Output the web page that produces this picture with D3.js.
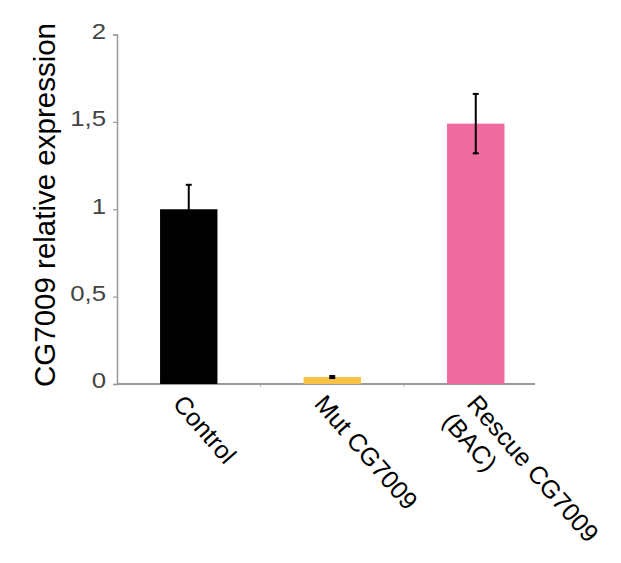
<!DOCTYPE html>
<html>
<head>
<meta charset="utf-8">
<script src="https://cdn.jsdelivr.net/npm/d3@7"></script>
<style>
  body { margin: 0; background: #fff; }
  text { font-family: "Liberation Sans", Arial, sans-serif; }
</style>
</head>
<body>
<svg id="chart" width="621" height="563"></svg>
<script>
// chart values
const categories = ["Control", "Mut CG7009", "Rescue CG7009\n(BAC)"];
const means = [1.0, 0.04, 1.49];
const errors = [0.14, 0.006, 0.17];
const barColors = ["#000000", "#f8c246", "#ee6c9d"];
const yTicks = [0, 0.5, 1, 1.5, 2];

const svg = d3.select("#chart");

const x = d3.scaleBand().domain(categories).range([117, 547.5]).paddingInner(0.6).paddingOuter(0.3);
const y = d3.scaleLinear().domain([0, 2]).range([384, 34.5]);

const fmt = d => String(d).replace(".", ",");

//------------------------------axes------------------------------
const gy = svg.append("g").attr("transform", "translate(117,0)")
  .call(d3.axisLeft(y).tickValues(yTicks).tickFormat(fmt).tickSize(4).tickSizeOuter(4).tickPadding(7));
gy.select(".domain").attr("stroke", "#999").attr("stroke-width", 1.5);
gy.selectAll(".tick line").attr("stroke", "#999").attr("stroke-width", 1.2);
// the figure's numerals are a bit wider than plain Arial, and sit slightly above the tick
gy.selectAll(".tick text")
  .attr("fill", "#444").attr("font-size", 21.5)
  .attr("x", -11 / 1.2)
  .attr("transform", "scale(1.2,1)")
  .attr("dy", "0.18em");

// x axis: line stops a bit short of the last band
const gx = svg.append("g");
gx.append("line").attr("x1", 117).attr("x2", 535).attr("y1", y(0)).attr("y2", y(0))
  .attr("stroke", "#999").attr("stroke-width", 2);
const bounds = categories.slice(1).map(c => x(c) - x.step() * x.paddingInner() / 2);
gx.selectAll("line.tk").data(bounds).join("line").attr("class", "tk")
  .attr("x1", d => d).attr("x2", d => d).attr("y1", y(0)).attr("y2", y(0) + 3)
  .attr("stroke", "#aaa").attr("stroke-width", 1);

//------------------------------bars------------------------------
svg.append("g").selectAll("rect").data(categories).join("rect")
  .attr("x", d => x(d))
  .attr("width", x.bandwidth())
  .attr("y", (d, i) => y(means[i]))
  .attr("height", (d, i) => y(0) - y(means[i]))
  .attr("fill", (d, i) => barColors[i]);

// error bars
const eb = svg.append("g").attr("stroke", "#000").attr("stroke-width", 2);
categories.forEach((c, i) => {
  const cx = x(c) + x.bandwidth() / 2;
  const lo = y(means[i] - errors[i]), hi = y(means[i] + errors[i]);
  eb.append("line").attr("x1", cx).attr("x2", cx).attr("y1", lo).attr("y2", hi);
  eb.append("line").attr("x1", cx - 3).attr("x2", cx + 3).attr("y1", hi).attr("y2", hi);
  eb.append("line").attr("x1", cx - 3).attr("x2", cx + 3).attr("y1", lo).attr("y2", lo);
});

//------------------------------labels------------------------------
const lab = svg.append("g").selectAll("text").data(categories).join("text")
  .attr("transform", (d, i) => {
    const cx = x(d) + x.bandwidth() / 2;
    const dx = [-17, -19, -10][i];
    return `translate(${cx + dx},404.5) rotate(49)`;
  })
  .attr("font-size", 25).attr("fill", "#000");
lab.each(function(d) {
  d3.select(this).selectAll("tspan").data(d.split("\n")).join("tspan")
    .attr("x", (t, j) => j ? -3 : 0).attr("dy", (t, j) => j ? "1.2em" : 0).text(t => t);
});

svg.append("text")
  .attr("transform", "translate(55,205) rotate(-90)")
  .attr("text-anchor", "middle")
  .attr("font-size", 29.5).attr("fill", "#000")
  .text("CG7009 relative expression");
</script>
</body>
</html>
